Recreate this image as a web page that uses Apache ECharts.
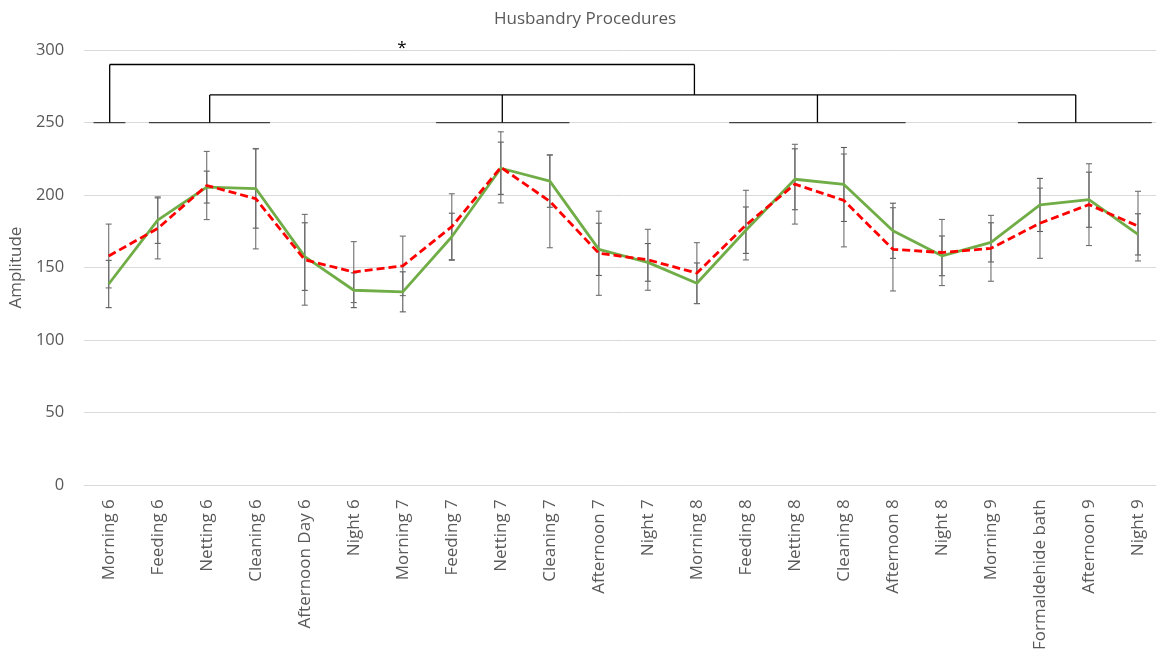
<!DOCTYPE html>
<html>
<head>
<meta charset="utf-8">
<script src="https://cdn.jsdelivr.net/npm/echarts@6/dist/echarts.min.js"></script>
<style>html,body{margin:0;padding:0;background:#fff;overflow:hidden}#c{width:1180px;height:653px}</style>
</head>
<body>
<div id="c"></div>
<script>
var categories = ['Morning 6','Feeding 6','Netting 6','Cleaning 6','Afternoon Day 6','Night 6','Morning 7','Feeding 7','Netting 7','Cleaning 7','Afternoon 7','Night 7','Morning 8','Feeding 8','Netting 8','Cleaning 8','Afternoon 8','Night 8','Morning 9','Formaldehide bath','Afternoon 9','Night 9'];
var greenValues = [138.7,182.7,205.5,204.5,157.6,134.4,133.3,171.3,218.5,209.6,162.6,153.6,139.2,175.8,210.9,207.3,175.4,158.1,167.4,193.2,196.8,172.9];
var greenErrors = [16.3,16,11,27.3,23.3,12,13.8,16.2,18,18,18,13,14,16,21,25.5,19,13.7,13.5,18.3,19,14.2];
var redValues = [158,177,206.6,197.5,155.4,146.9,151.2,178.2,219.1,195.7,159.9,155.4,146.2,179.3,207.5,196.3,162.6,160.4,163.3,180.6,193.4,178.6];
var redErrors = [22,21,23.5,34.6,31.3,21,20.5,22.7,24.5,32,29,21,21,24,27.5,32,28.7,22.8,22.7,24.2,28.2,24];
var yTicks = [0,50,100,150,200,250,300];
// significance brackets (x in category-index units, y in amplitude units)
var baseSegments = [[-0.31,0.34],[0.82,3.29],[6.68,9.4],[12.66,16.26],[18.55,21.28]];
var baseLevel = 250;
var innerLevel = 269;
var innerLegs = [2.06,8.03,14.46,19.73];
var outerLevel = 290;
var outerLegs = [[0.02,250],[11.95,269]];
var starMark = [5.98,301];
var starText = '*';

var chart = echarts.init(document.getElementById('c'), null, {renderer:'canvas'});
var FONT = 'Open Sans';
var TXT = '#595959';

function errData(vals, errs){
  return vals.map(function(v,i){ return [i, v-errs[i], v+errs[i]]; });
}
function errSeries(vals, errs, color){
  return {
    type:'custom', xAxisIndex:0, yAxisIndex:0, z:1, silent:true, animation:false,
    data: errData(vals, errs),
    renderItem: function(params, api){
      var lo = api.coord([api.value(0), api.value(1)]);
      var hi = api.coord([api.value(0), api.value(2)]);
      var w = 3;
      var st = {stroke: color, lineWidth: 1.1};
      return {type:'group', children:[
        {type:'line', shape:{x1:lo[0],y1:lo[1],x2:hi[0],y2:hi[1]}, style:st},
        {type:'line', shape:{x1:lo[0]-w,y1:lo[1],x2:lo[0]+w,y2:lo[1]}, style:st},
        {type:'line', shape:{x1:hi[0]-w,y1:hi[1],x2:hi[0]+w,y2:hi[1]}, style:st}
      ]};
    }
  };
}
function seg(points, color){
  return {type:'line', xAxisIndex:1, yAxisIndex:0, data:points, symbol:'none', silent:true, animation:false, z:5,
    lineStyle:{color:color, width:1.3}};
}
var series = [];
series.push(errSeries(greenValues, greenErrors, '#595959'));
series.push(errSeries(redValues, redErrors, '#6f6f6f'));
series.push({type:'line', name:'green', data:greenValues, symbol:'none', z:3, animation:false,
  lineStyle:{color:'#70AD47', width:2.8}});
series.push({type:'line', name:'red', data:redValues, symbol:'none', z:4, animation:false,
  lineStyle:{color:'#FF0000', width:2.8, type:[8,4]}});
baseSegments.forEach(function(s){ series.push(seg([[s[0],baseLevel],[s[1],baseLevel]], '#404040')); });
series.push(seg([[innerLegs[0],innerLevel],[innerLegs[innerLegs.length-1],innerLevel]], '#000'));
innerLegs.forEach(function(x){ series.push(seg([[x,baseLevel],[x,innerLevel]], '#000')); });
series.push(seg([[outerLegs[0][0],outerLevel],[outerLegs[1][0],outerLevel]], '#000'));
outerLegs.forEach(function(l){ series.push(seg([[l[0],l[1]],[l[0],outerLevel]], '#000')); });
series.push({type:'custom', xAxisIndex:1, yAxisIndex:0, data:[starMark], silent:true, animation:false, z:6, clip:false,
  renderItem:function(params, api){
    var p = api.coord([api.value(0), api.value(1)]);
    return {type:'text', x:p[0], y:p[1], style:{text:starText, fontSize:17, fontFamily:FONT, fill:'#000', align:'center', verticalAlign:'middle'}};
  }});

chart.setOption({
  animation:false,
  backgroundColor:'#fff',
  title:{text:'Husbandry Procedures', left:580, textAlign:'center', top:6,
    textStyle:{fontFamily:FONT, fontSize:17, fontWeight:'normal', color:TXT}},
  grid:{left:83.5, top:50, width:1079, height:439, containLabel:false},
  xAxis:[
    {type:'category', data:categories, boundaryGap:true,
     axisLine:{show:true, lineStyle:{color:'#d9d9d9', width:1}}, axisTick:{show:false},
     axisLabel:{rotate:90, interval:0, margin:14, fontFamily:FONT, fontSize:17, color:TXT},
     splitLine:{show:false}},
    {type:'value', min:-0.5, max:21.5, show:false}
  ],
  yAxis:{type:'value', min:yTicks[0], max:yTicks[yTicks.length-1], interval:50,
    name:'Amplitude', nameLocation:'middle', nameGap:53, nameRotate:90,
    nameTextStyle:{fontFamily:FONT, fontSize:17, color:TXT},
    axisLine:{show:false}, axisTick:{show:false},
    axisLabel:{margin:20, fontFamily:FONT, fontSize:16.5, color:TXT},
    splitLine:{lineStyle:{color:'#d9d9d9', width:1}}},
  series:series
});
</script>
</body>
</html>
